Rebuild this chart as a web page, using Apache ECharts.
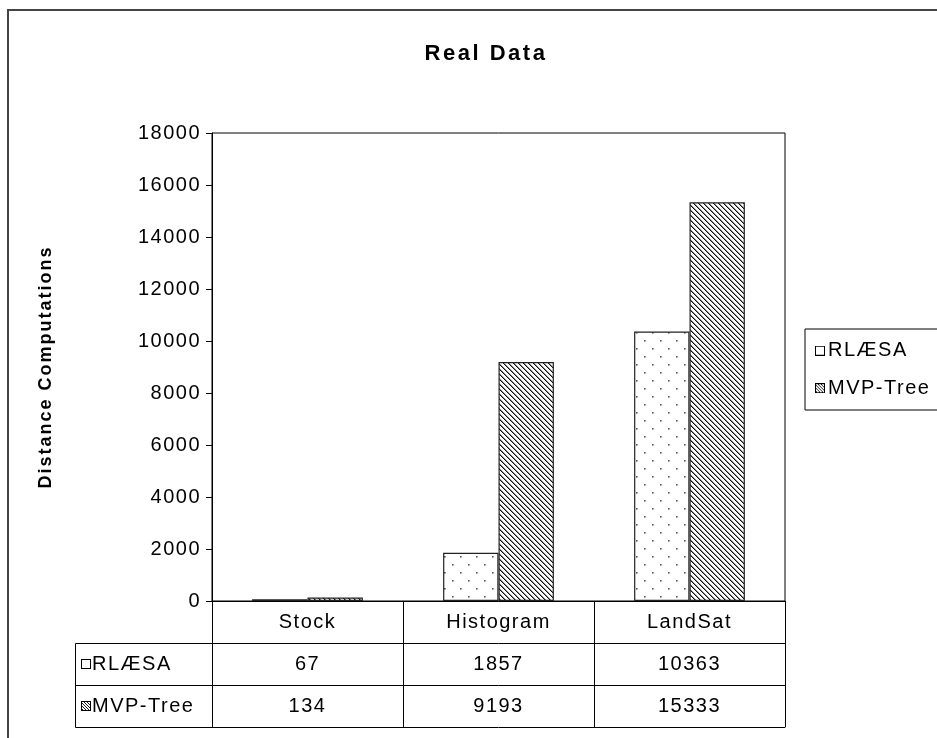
<!DOCTYPE html>
<html>
<head>
<meta charset="utf-8">
<script src="https://cdn.jsdelivr.net/npm/echarts@6/dist/echarts.min.js"></script>
<style>
  html, body { margin: 0; padding: 0; background: #fff; }
  #chart { width: 937px; height: 738px; }
</style>
</head>
<body>
<div id="chart"></div>
<script>
// ---- data ----
const categories = ['Stock', 'Histogram', 'LandSat'];
const seriesNames = ['RLÆSA', 'MVP-Tree'];
const rlaesa = [67, 1857, 10363];
const mvpTree = [134, 9193, 15333];
const yMin = 0, yMax = 18000, yStep = 2000;

// Loose letter spacing, like old GDI text rendering
(function () {
  const proto = CanvasRenderingContext2D.prototype;
  const fill = proto.fillText, measure = proto.measureText;
  const pick = ctx => {
    const bold = /bold/.test(ctx.font);
    const m = /(\d+)px/.exec(ctx.font);
    const size = m ? +m[1] : 12;
    if (bold) return size >= 20 ? '2.5px' : '2px';
    return '1.5px';
  };
  proto.fillText = function () { this.letterSpacing = pick(this); return fill.apply(this, arguments); };
  proto.measureText = function () { this.letterSpacing = pick(this); return measure.apply(this, arguments); };
})();

// ---- fill patterns ----
function dotPattern() {
  const c = document.createElement('canvas');
  c.width = 16; c.height = 16;
  const g = c.getContext('2d');
  g.fillStyle = '#fff'; g.fillRect(0, 0, 16, 16);
  g.fillStyle = '#555';
  g.fillRect(4, 4, 1.6, 1.6);
  g.fillRect(12, 12, 1.6, 1.6);
  return c;
}
function hatchPattern() {
  const n = 5;
  const c = document.createElement('canvas');
  c.width = n; c.height = n;
  const g = c.getContext('2d');
  g.fillStyle = '#fff'; g.fillRect(0, 0, n, n);
  for (let i = 0; i < n; i++) {
    g.fillStyle = '#111'; g.fillRect(i, i, 1, 1);
    g.fillStyle = '#888'; g.fillRect((i + 1) % n, i, 1, 1);
  }
  return c;
}
// small legend-key squares: plain and hatched
function keyIcon(hatched) {
  const s = 10;
  const c = document.createElement('canvas');
  c.width = s; c.height = s;
  const g = c.getContext('2d');
  g.fillStyle = '#fff'; g.fillRect(0, 0, s, s);
  if (hatched) {
    g.fillStyle = '#222';
    for (let k = -s; k < s; k += 3) {
      for (let i = 0; i < s; i++) {
        const x = i + k;
        if (x >= 0 && x < s) g.fillRect(x, i, 1, 1);
      }
    }
  }
  g.strokeStyle = '#000'; g.lineWidth = 1;
  g.strokeRect(0.5, 0.5, s - 1, s - 1);
  return c;
}
const dots = dotPattern();
const hatch = hatchPattern();
const keyPlain = keyIcon(false);
const keyHatch = keyIcon(true);

// ---- layout ----
const FONT = 'Liberation Sans';
const G = { left: 212, top: 133, width: 573, height: 468 };
const ROW = 42;
const LABEL_COL = 75;
const gBottom = G.top + G.height;

const baseText = { fontFamily: FONT, fontSize: 20, color: '#000' };
const rowName = (icon, text) => ({
  name: '{k|}{t|' + text + '}',
  nameLocation: 'start',
  nameGap: G.left - LABEL_COL - 6,
  nameTextStyle: {
    align: 'left', verticalAlign: 'middle', padding: [ROW, 0, 0, 0],
    rich: {
      t: { fontFamily: FONT, fontSize: 20, color: '#000', padding: [0, 0, 0, 1] },
      k: { width: 10, height: 10, backgroundColor: { image: icon } }
    }
  }
});

function tableAxis(offset, labels, extra) {
  return Object.assign({
    type: 'category', data: categories, gridIndex: 0, position: 'bottom', offset: offset,
    axisLine: { show: true, lineStyle: { color: '#000', width: 1 } },
    axisTick: { show: labels !== null, length: ROW, interval: 0, lineStyle: { color: '#000', width: 1 } },
    axisLabel: labels === null ? { show: false } : Object.assign({ interval: 0, margin: 11, formatter: (v, i) => String(labels[i]) }, baseText),
    splitLine: { show: false }
  }, extra || {});
}

const chart = echarts.init(document.getElementById('chart'), null, { renderer: 'canvas' });
chart.setOption({
  backgroundColor: '#fff',
  animation: false,
  title: {
    text: 'Real Data', left: 481, top: 37, textAlign: 'center',
    textStyle: { fontFamily: FONT, fontSize: 22, fontWeight: 'bold', color: '#000' }
  },
  legend: {
    orient: 'vertical', left: 805, top: 329,
    itemWidth: 10, itemHeight: 10, itemGap: 16,
    padding: [11, 30, 11, 10],
    borderColor: '#000', borderWidth: 1,
    textStyle: Object.assign({ padding: [0, 0, 0, -2] }, baseText),
    data: [
      { name: seriesNames[0], icon: 'image://' + keyPlain.toDataURL() },
      { name: seriesNames[1], icon: 'image://' + keyHatch.toDataURL() }
    ]
  },
  grid: {
    left: G.left, top: G.top, width: G.width, height: G.height,
    show: true, borderColor: '#000', borderWidth: 1, backgroundColor: 'transparent'
  },
  xAxis: [
    tableAxis(0, categories, { axisLabel: Object.assign({ interval: 0, margin: 11 }, baseText) }),
    tableAxis(ROW, rlaesa, rowName(keyPlain, seriesNames[0])),
    tableAxis(ROW * 2, mvpTree, rowName(keyHatch, seriesNames[1])),
    tableAxis(ROW * 3, null)
  ],
  yAxis: {
    type: 'value', min: yMin, max: yMax, interval: yStep,
    name: 'Distance Computations', nameLocation: 'middle', nameRotate: 90, nameGap: 156,
    nameTextStyle: { fontFamily: FONT, fontSize: 18, fontWeight: 'bold', color: '#000' },
    axisLine: { show: true, lineStyle: { color: '#000', width: 1 } },
    axisTick: { show: true, length: 6, lineStyle: { color: '#000' } },
    axisLabel: Object.assign({ margin: 11, formatter: v => String(v) }, baseText),
    splitLine: { show: false }
  },
  series: [
    {
      name: seriesNames[0], type: 'bar', data: rlaesa, xAxisIndex: 0, yAxisIndex: 0,
      barGap: '0%', barCategoryGap: '42%',
      itemStyle: { color: { image: dots, repeat: 'repeat' }, borderColor: '#222', borderWidth: 1.2 }
    },
    {
      name: seriesNames[1], type: 'bar', data: mvpTree, xAxisIndex: 0, yAxisIndex: 0,
      barGap: '0%', barCategoryGap: '42%',
      itemStyle: { color: { image: hatch, repeat: 'repeat' }, borderColor: '#222', borderWidth: 1.2 }
    }
  ],
  graphic: [
    // outer chart frame
    { type: 'rect', z: -10, silent: true,
      shape: { x: 8, y: 10, width: 1000, height: 900 },
      style: { fill: null, stroke: '#444', lineWidth: 2 } },
    // series-name column of the data table
    { type: 'polyline', z: 10, silent: true,
      shape: { points: [[G.left, gBottom + ROW + 0.5], [LABEL_COL + 0.5, gBottom + ROW + 0.5],
                        [LABEL_COL + 0.5, gBottom + ROW * 3 + 0.5], [G.left, gBottom + ROW * 3 + 0.5]] },
      style: { fill: null, stroke: '#000', lineWidth: 1 } },
    { type: 'line', z: 10, silent: true,
      shape: { x1: LABEL_COL, y1: gBottom + ROW * 2 + 0.5, x2: G.left, y2: gBottom + ROW * 2 + 0.5 },
      style: { stroke: '#000', lineWidth: 1 } }
  ]
});
</script>
</body>
</html>
